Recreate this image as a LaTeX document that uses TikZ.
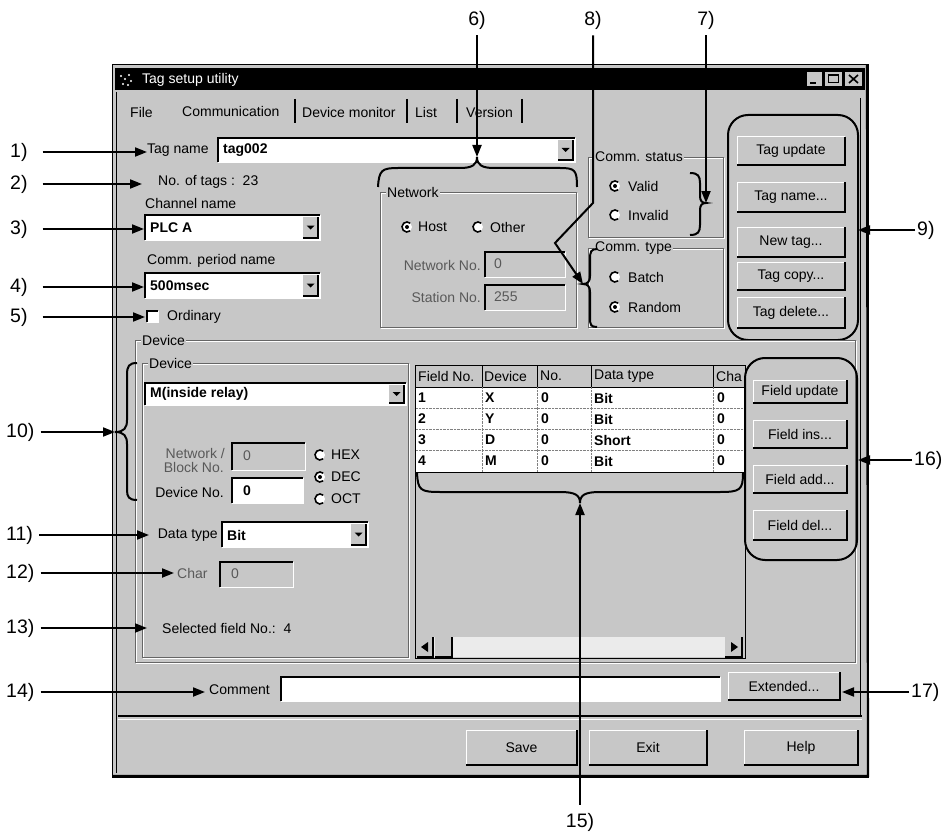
\documentclass[tikz,border=0pt]{standalone}
\usepackage{fontspec}
\setmainfont{Liberation Sans}
\usetikzlibrary{arrows.meta}
\definecolor{bg}{gray}{0.78}
\definecolor{dis}{gray}{0.35}
\tikzset{
  ui/.style={font=\fontsize{14}{16}\selectfont, inner sep=0pt},
  uib/.style={font=\fontsize{14}{16}\selectfont\bfseries, inner sep=0pt},
  lbl/.style={font=\fontsize{19.5}{21}\selectfont, inner sep=0pt},
  lead/.style={line width=2pt, -{Triangle[length=12pt,width=9pt]}},
  bracepath/.style={line width=2pt},
  grp/.style={line width=2pt, rounded corners=20pt},
}
\newcommand\uifield[5]{%
  \fill[#5] (#1,#2) rectangle (#3,#4);
  \draw[white,line width=0.8pt] (#1,#4) -- (#3,#4) -- (#3,#2);
  \draw[line width=1.8pt] (#1,#4) -- (#1,#2) -- (#3,#2);}
\newcommand\uicombo[4]{%
  \uifield{#1}{#2}{#3}{#4}{white}%
  \fill[bg] ({#3-17},{#2+2}) rectangle ({#3-2},{#4-2});
  \draw[line width=1.2pt] ({#3-17},{#4-2}) -- ({#3-2},{#4-2}) -- ({#3-2},{#2+2});
  \fill ({#3-13.5},{(#2+#4)/2-2}) -- ({#3-5.5},{(#2+#4)/2-2}) -- ({#3-9.5},{(#2+#4)/2+2}) -- cycle;}
\newcommand\uibtn[6]{%
  \fill[bg] (#2,#3) rectangle (#4,#5);
  \draw[white,line width=1pt] (#2,#5) -- (#2,#3) -- (#4,#3);
  \draw[line width=2pt] (#2,#5) -- (#4,#5) -- (#4,#3);
  \node[ui] (#1) at ({(#2+#4)/2},{(#3+#5)/2}) {#6};}
\newcommand\uigroup[6]{%
  \draw[white,line width=0.8pt] ({#2+1},{#3+1}) rectangle ({#4+1},{#5+1});
  \draw[black!60,line width=0.8pt] (#2,#3) rectangle (#4,#5);
  \node[ui,fill=bg,inner xsep=1pt,anchor=west] (#1) at ({#2+6},#3) {#6};}
\newcommand\uiradio[3]{%
  \fill[white] (#1,#2) circle (5);
  \draw[line width=1.6pt] (#1,#2) ++(50:5) arc (50:310:5);
  \ifnum#3=1 \fill (#1,#2) circle (2);\fi}
\begin{document}
\begin{tikzpicture}[x=1pt,y=-1pt]
\useasboundingbox (0,0) rectangle (948,832);
% ---------- window ----------
\fill[bg] (112,65) rectangle (868,777);
\draw[line width=1pt] (112,65) rectangle (868,777);
\draw[line width=0.6pt] (116,92) -- (116,773);
\draw[line width=2.2pt] (112,776) -- (868,776) -- (867,65);
\fill (115,68) rectangle (865,90);
\foreach \p in {(121,76),(125,79),(129,75),(123,84),(128,85),(131,81)} \fill[white] \p circle (1.2);
\node[ui,text=white,anchor=west] (title) at (142,80) {Tag setup utility};
\fill[bg] (807,72) rectangle (822,86);
\draw[line width=1.5pt] (810,83) -- (816,83);
\fill[bg] (825,72) rectangle (842,86);
\draw[line width=1pt] (828,75) rectangle (838,83);
\draw[line width=2pt] (828,75.5) -- (838,75.5);
\fill[bg] (845,72) rectangle (862,86);
\draw[line width=1.6pt] (849,75) -- (858,83) (849,83) -- (858,75);
% ---------- menu ----------
\node[ui,anchor=west] (mfile) at (130,112) {File};
\node[ui,anchor=west] (mcomm) at (182,111) {Communication};
\node[ui,anchor=west] (mdev) at (302,112) {Device monitor};
\node[ui,anchor=west] (mlist) at (415,112) {List};
\node[ui,anchor=west] (mver) at (466,112) {Version};
\foreach \x in {295,407,457,522} \draw[line width=1.6pt] (\x,99) -- (\x,123);
% ---------- panel lines ----------
\draw[line width=1pt] (860,98) -- (860,716);
\draw[line width=1.2pt] (118,716) -- (862,716);
\draw[white,line width=1pt] (118,719) -- (862,719);
% ---------- top-left fields ----------
\node[ui,anchor=west] (tagname) at (147,150) {Tag name};
\uicombo{218}{138}{575}{162}
\node[uib,anchor=west] (tagval) at (223,150) {tag002};
\node[ui,anchor=west] (ntags) at (158,182) {No. of tags :\ \ 23};
\node[ui,anchor=west] (chn) at (145,203) {Channel name};
\uicombo{145}{215}{320}{240}
\node[uib,anchor=west] (plca) at (150,228) {PLC A};
\node[ui,anchor=west] (cpn) at (147,261) {Comm. period name};
\uicombo{145}{273}{320}{298}
\node[uib,anchor=west] (msec) at (150,286) {500msec};
\uifield{147}{311}{158}{322}{white}
\node[ui,anchor=west] (ordi) at (167,317) {Ordinary};
% ---------- Network ----------
\uigroup{gnet}{380}{192}{576}{327}{Network}
\uiradio{407}{227}{1}
\node[ui,anchor=west] (host) at (418,227) {Host};
\uiradio{478}{227}{0}
\node[ui,anchor=west] (other) at (490,227) {Other};
\node[ui,anchor=east,text=dis] (netno) at (481,265) {Network No.};
\uifield{485}{252}{565}{277}{bg}
\node[ui,anchor=west,text=dis] (netv) at (494,264) {0};
\node[ui,anchor=east,text=dis] (stno) at (481,297) {Station No.};
\uifield{485}{285}{565}{310}{bg}
\node[ui,anchor=west,text=dis] (stv) at (494,297) {255};
% ---------- Comm status / type ----------
\uigroup{gcs}{588}{157}{723}{237}{Comm. status}
\uiradio{615}{186}{1}
\node[ui,anchor=west] (valid) at (628,186) {Valid};
\uiradio{615}{215}{0}
\node[ui,anchor=west] (invalid) at (628,215) {Invalid};
\uigroup{gct}{588}{248}{723}{327}{Comm. type}
\uiradio{615}{277}{0}
\node[ui,anchor=west] (batch) at (628,277) {Batch};
\uiradio{615}{307}{1}
\node[ui,anchor=west] (random) at (628,307) {Random};
% ---------- tag buttons ----------
\uibtn{b1}{737}{137}{845}{165}{Tag update}
\uibtn{b2}{737}{182}{845}{212}{Tag name...}
\uibtn{b3}{737}{227}{845}{257}{New tag...}
\uibtn{b4}{737}{262}{845}{290}{Tag copy...}
\uibtn{b5}{737}{297}{845}{328}{Tag delete...}
\draw[grp] (728,115) rectangle (858,340);
% ---------- Device ----------
\uigroup{gdev}{135}{340}{855}{662}{Device}
\uigroup{gdev2}{142}{363}{408}{657}{Device}
\uicombo{145}{383}{406}{405}
\node[uib,anchor=west] (mrel) at (150,394) {M(inside relay)};
\node[ui,anchor=east,text=dis] (nb1) at (225,453) {Network /};
\node[ui,anchor=east,text=dis] (nb2) at (224,467) {Block No.};
\uifield{232}{443}{305}{470}{bg}
\node[ui,anchor=west,text=dis] (nbv) at (243,456) {0};
\uiradio{320}{455}{0}
\node[ui,anchor=west] (hex) at (331,455) {HEX};
\uiradio{320}{477}{1}
\node[ui,anchor=west] (dec) at (331,477) {DEC};
\uiradio{320}{499}{0}
\node[ui,anchor=west] (oct) at (331,499) {OCT};
\node[ui,anchor=east] (devno) at (224,492) {Device No.};
\uifield{232}{478}{303}{503}{white}
\node[uib,anchor=west] (devv) at (243,491) {0};
\node[ui,anchor=east] (dtype) at (218,535) {Data type};
\uicombo{222}{522}{368}{547}
\node[uib,anchor=west] (dtv) at (227,535) {Bit};
\node[ui,anchor=west,text=dis] (charl) at (177,573) {Char};
\uifield{220}{562}{293}{587}{bg}
\node[ui,anchor=west,text=dis] (charv) at (231,574) {0};
\node[ui,anchor=west] (self) at (162,628) {Selected field No.:\ \ 4};
% ---------- table ----------
\fill[bg] (415,365) rectangle (745,658);
\fill[white] (416,387) rectangle (744,472);
\draw[line width=1pt] (415,365) rectangle (745,658);
\draw[line width=1pt] (416,387) -- (744,387);
\draw[line width=1pt] (416,472) -- (744,472);
\foreach \x in {482,537,591,713} {
  \draw[line width=1pt] (\x,366) -- (\x,387);
  \draw[gray,densely dotted] (\x,387) -- (\x,472);}
\foreach \y in {408,429,450} \draw[gray,densely dotted] (416,\y) -- (744,\y);
\node[ui,anchor=west] (h1) at (418,376) {Field No.};
\node[ui,anchor=west] (h2) at (484,376) {Device};
\node[ui,anchor=west] (h3) at (540,376) {No.};
\node[ui,anchor=west] (h4) at (594,376) {Data type};
\node[ui,anchor=west] (h5) at (716,376) {Cha};
\foreach \y/\a/\b/\c in {398/1/X/Bit, 419/2/Y/Bit, 440/3/D/Short, 461/4/M/Bit} {
  \node[uib,anchor=west] (r\a a) at (418,\y) {\a};
  \node[uib,anchor=west] (r\a b) at (485,\y) {\b};
  \node[uib,anchor=west] (r\a c) at (541,\y) {0};
  \node[uib,anchor=west] (r\a d) at (594,\y) {\c};
  \node[uib,anchor=west] (r\a e) at (717,\y) {0};}
\fill[white!92!black] (434,637) rectangle (725,657);
\fill[bg] (417,637) rectangle (433,657);
\draw[line width=1.2pt] (417,657) -- (433,657) -- (433,637);
\fill (421,647) -- (428,642) -- (428,652) -- cycle;
\fill[bg] (435,637) rectangle (452,657);
\draw[line width=1.2pt] (435,657) -- (452,657) -- (452,637);
\fill[bg] (725,637) rectangle (742,657);
\draw[line width=1.2pt] (725,657) -- (742,657) -- (742,637);
\fill (738,647) -- (731,642) -- (731,652) -- cycle;
% ---------- field buttons ----------
\uibtn{f1}{753}{380}{847}{403}{Field update}
\uibtn{f2}{753}{420}{847}{448}{Field ins...}
\uibtn{f3}{753}{465}{847}{493}{Field add...}
\uibtn{f4}{753}{510}{847}{540}{Field del...}
\draw[grp] (745,358) rectangle (857,560);
% ---------- bottom ----------
\node[ui,anchor=west] (comment) at (209,690) {Comment};
\uifield{281}{677}{720}{701}{white}
\uibtn{bext}{728}{672}{840}{700}{Extended...}
\uibtn{bsave}{466}{730}{577}{765}{Save}
\uibtn{bexit}{589}{730}{707}{765}{Exit}
\uibtn{bhelp}{744}{730}{858}{765}{Help}
% ---------- braces ----------
\draw[bracepath] (378,187) .. controls (379,170) and (382,168) .. (398,168) -- (460,168) .. controls (472,168) and (477,165) .. (477,157) .. controls (477,165) and (482,168) .. (494,168) -- (560,168) .. controls (575,168) and (577,170) .. (577,187);
\draw[bracepath] (690,173) .. controls (698,173) and (700,176) .. (700,183) -- (700,196) .. controls (700,201) and (702,203) .. (706,203) .. controls (702,203) and (700,205) .. (700,210) -- (700,225) .. controls (700,232) and (698,235) .. (690,235);
\draw[bracepath] (597,249) .. controls (591,249) and (590,252) .. (590,259) -- (590,276) .. controls (590,281) and (588,284) .. (583,284) .. controls (588,284) and (590,287) .. (590,292) -- (590,318) .. controls (590,325) and (591,327) .. (597,327);
\draw[bracepath] (137,363) .. controls (129,363) and (127,366) .. (127,375) -- (127,420) .. controls (127,428) and (124,432) .. (115,432) .. controls (124,432) and (127,436) .. (127,444) -- (127,490) .. controls (127,497) and (129,500) .. (137,500);
\draw[bracepath] (417,473) .. controls (418,490) and (420,492) .. (440,492) -- (560,492) .. controls (575,492) and (580,495) .. (580,503) .. controls (580,495) and (585,492) .. (600,492) -- (720,492) .. controls (740,492) and (743,490) .. (743,473);
% ---------- labels and leaders ----------
\node[lbl,anchor=west] (n1) at (10,152) {1)};
\node[lbl,anchor=west] (n2) at (10,184) {2)};
\node[lbl,anchor=west] (n3) at (10,229) {3)};
\node[lbl,anchor=west] (n4) at (10,287) {4)};
\node[lbl,anchor=west] (n5) at (10,317) {5)};
\node[lbl,anchor=west] (n10) at (6,432) {10)};
\node[lbl,anchor=west] (n11) at (6,535) {11)};
\node[lbl,anchor=west] (n12) at (6,573) {12)};
\node[lbl,anchor=west] (n13) at (6,628) {13)};
\node[lbl,anchor=west] (n14) at (6,692) {14)};
\node[lbl] (n6) at (477,20) {6)};
\node[lbl] (n8) at (593,20) {8)};
\node[lbl] (n7) at (706,20) {7)};
\node[lbl,anchor=west] (n9) at (917,230) {9)};
\node[lbl,anchor=west] (n16) at (914,460) {16)};
\node[lbl,anchor=west] (n17) at (911,692) {17)};
\node[lbl] (n15) at (580,822) {15)};
\coordinate (t1) at (147,152);
\coordinate (t2) at (142,184);
\coordinate (t3) at (144,229);
\coordinate (t4) at (144,287);
\coordinate (t5) at (145,317);
\coordinate (t10) at (115,432);
\coordinate (t11) at (149,535);
\coordinate (t12) at (174,573);
\coordinate (t13) at (147,628);
\coordinate (t14) at (205,692);
\coordinate (t6) at (477,157);
\coordinate (t7) at (706,203);
\coordinate (t8) at (583,284);
\coordinate (t9) at (858,230);
\coordinate (t16) at (858,460);
\coordinate (t17) at (842,692);
\coordinate (t15) at (580,503);
\foreach \n in {1,2,3,4,5} \draw[lead] ([xshift=15pt]n\n.east) -- (t\n);
\foreach \n in {10,11,12,13,14} \draw[lead] ([xshift=6pt]n\n.east) -- (t\n);
\draw[lead] ([yshift=-6pt]n6.south) -- (t6);
\draw[lead] ([yshift=-6pt]n7.south) -- (t7);
\draw[lead] ([yshift=-6pt]n8.south) -- (593,203) -- (555,243) -- (t8);
\draw[lead] ([xshift=-2pt]n9.west) -- (t9);
\draw[lead] ([xshift=-2pt]n16.west) -- (t16);
\draw[lead] ([xshift=-2pt]n17.west) -- (t17);
\draw[lead] ([yshift=8pt]n15.north) -- (t15);
\end{tikzpicture}
\end{document}
